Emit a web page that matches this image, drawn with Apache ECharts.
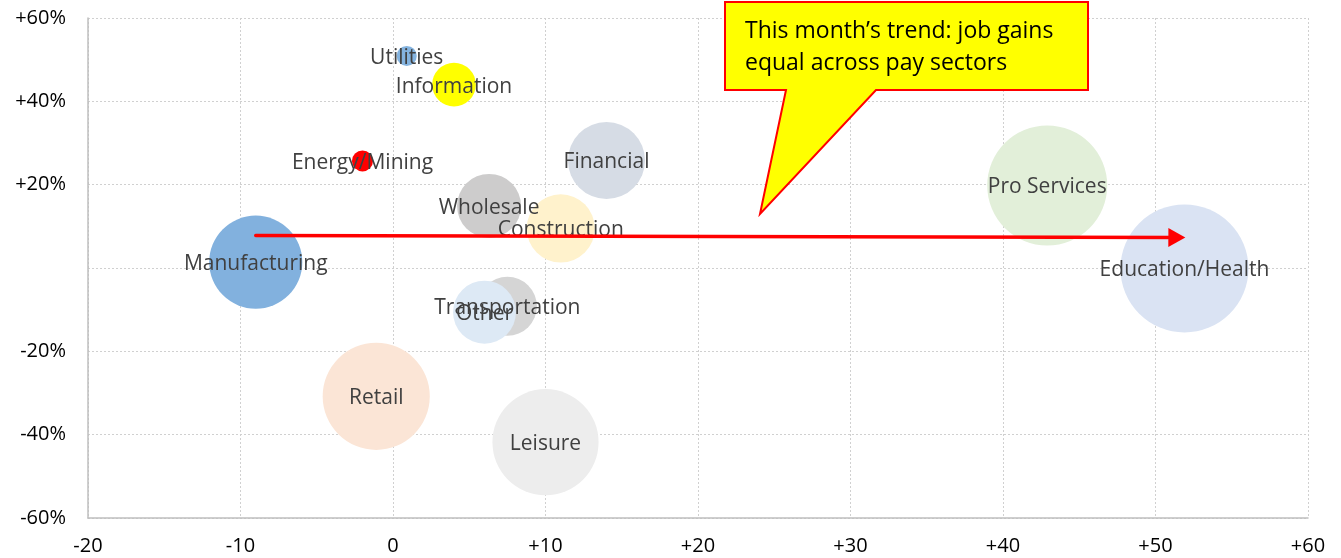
<!DOCTYPE html>
<html>
<head>
<meta charset="utf-8">
<script src="https://cdn.jsdelivr.net/npm/echarts@6/dist/echarts.min.js"></script>
<style>
html,body{margin:0;padding:0;background:#fff;}
#chart{width:1341px;height:558px;}
</style>
</head>
<body>
<div id="chart"></div>
<script>
// Sector data: x = job change (thousands), y = pay relative (%), size = employment (millions)
const sectors = ['Utilities','Information','Energy/Mining','Financial','Pro Services','Wholesale','Construction','Manufacturing','Education/Health','Transportation','Other','Retail','Leisure'];
const xValues = [0.9, 4.0, -2.0, 14.0, 42.9, 6.3, 11.0, -9.0, 51.9, 7.5, 6.0, -1.1, 10.0];
const yValues = [50.9, 44.0, 25.7, 25.8, 19.8, 14.9, 9.5, 1.4, -0.1, -9.2, -10.6, -30.8, -41.8];
const sizeValues = [0.59, 2.8, 0.65, 8.7, 21.1, 6.0, 6.8, 12.7, 24.0, 5.1, 5.8, 16.8, 16.5];
const colors = ['#84b3df','#ffff00','#ff0000','#d6dce5','#e2efd9','#cdcccc','#fff2cc','#82b1de','#dae3f3','#d5d5d5','#dde9f5','#fbe5d6','#ededed'];
const xTicks = [-20, -10, 0, 10, 20, 30, 40, 50, 60];
const yTicks = [-60, -40, -20, 0, 20, 40, 60];
const arrowStart = [-9.0, 7.8];
const arrowEnd = [51.4, 7.3];
const calloutText = ['This month\u2019s trend: job gains', 'equal across pay sectors'];

const maxSize = Math.max(...sizeValues);
const bubbleSize = v => 128 * Math.sqrt(v / maxSize);

const points = sectors.map((name, i) => ({
  name: name,
  value: [xValues[i], yValues[i], sizeValues[i]],
  itemStyle: { color: colors[i] }
}));

const chart = echarts.init(document.getElementById('chart'), null, { renderer: 'canvas' });
const gridLine = { show: true, lineStyle: { color: '#d0d0d0', type: [2, 2], width: 1 } };

chart.setOption({
  animation: false,
  grid: { left: 88, right: 33, top: 18, bottom: 40, containLabel: false },
  xAxis: {
    type: 'value', min: xTicks[0], max: xTicks[xTicks.length - 1], interval: 10,
    axisLine: { onZero: false, lineStyle: { color: '#bfbfbf', width: 1.5 } },
    axisTick: { show: false },
    splitLine: gridLine,
    axisLabel: {
      color: '#000', fontFamily: 'Open Sans', fontSize: 20, margin: 18,
      formatter: v => v > 0 ? '+' + v : String(v)
    }
  },
  yAxis: {
    type: 'value', min: yTicks[0], max: yTicks[yTicks.length - 1], interval: 20,
    axisLine: { show: true, onZero: false, lineStyle: { color: '#bfbfbf', width: 1.5 } },
    axisTick: { show: false },
    splitLine: gridLine,
    axisLabel: {
      color: '#000', fontFamily: 'Open Sans', fontSize: 20, margin: 22,
      formatter: v => v === 0 ? '' : (v > 0 ? '+' + v + '%' : v + '%')
    }
  },
  series: [
    {
      type: 'scatter', name: 'bubbles', z: 2,
      data: points,
      symbolSize: d => bubbleSize(d[2]),
      itemStyle: { opacity: 1 },
      label: { show: false },
      emphasis: { disabled: true }
    },
    {
      type: 'scatter', name: 'arrow', z: 3,
      data: [],
      markLine: {
        silent: true, animation: false,
        symbol: ['none', 'triangle'], symbolSize: [19, 17],
        lineStyle: { color: '#ff0000', width: 3.5, type: 'solid', cap: 'round', opacity: 1 },
        label: { show: false },
        data: [[{ coord: arrowStart }, { coord: arrowEnd }]]
      }
    },
    {
      type: 'scatter', name: 'labels', z: 4,
      data: points.map(p => ({ name: p.name, value: p.value })),
      symbolSize: 0,
      itemStyle: { opacity: 1 },
      label: {
        show: true, position: 'inside', formatter: p => p.name, offset: [0, 2],
        color: '#404040', fontFamily: 'Open Sans', fontSize: 21,
        textBorderWidth: 0, textShadowBlur: 0
      },
      emphasis: { disabled: true }
    }
  ],
  graphic: [
    {
      type: 'polygon', z: 10,
      shape: { points: [[725,2],[1088,2],[1088,90],[876,90],[760,214],[786,90],[725,90]] },
      style: { fill: '#ffff00', stroke: '#ff0000', lineWidth: 2 }
    },
    {
      type: 'text', z: 11, left: 745, top: 15,
      style: { text: calloutText.join('\n'), fill: '#000', font: '23px "Open Sans"', lineHeight: 32 }
    }
  ]
});
</script>
</body>
</html>
